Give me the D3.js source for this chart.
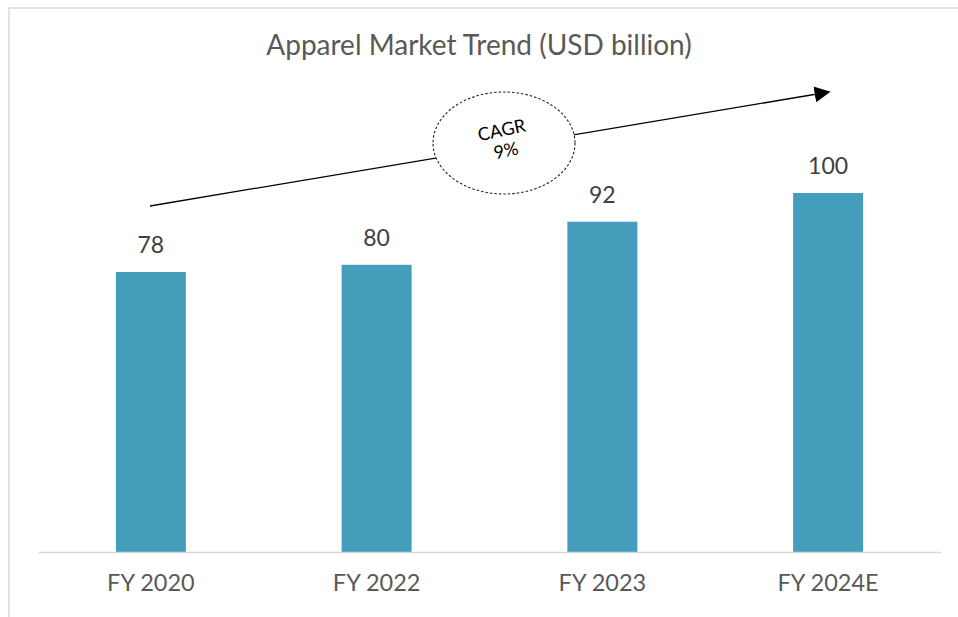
<!DOCTYPE html>
<html><head><meta charset="utf-8">
<script src="https://cdn.jsdelivr.net/npm/d3@7"></script>
<style>body{margin:0;background:#fff}svg{display:block}</style>
</head><body>
<svg id="c" width="958" height="617"></svg>
<script>
const categories = ["FY 2020", "FY 2022", "FY 2023", "FY 2024E"];
const values = [78, 80, 92, 100];
const title = "Apparel Market Trend (USD billion)";
const cagrLabel = ["CAGR", "9%"];

const svg = d3.select("#c");
const W = 958, H = 617;
const fontFam = "Lato, 'Open Sans', sans-serif";

// frame
svg.append("path").attr("d", `M9,${H} L9,8 L${W},8`)
  .attr("fill", "none").attr("stroke", "#d9d9d9").attr("stroke-width", 1.5);

const x = d3.scaleBand().domain(categories).range([38, 941]).paddingInner(0.69).paddingOuter(0.345);
const y = d3.scaleLinear().domain([0, 100]).range([552, 193]);

svg.append("text").attr("x", 479).attr("y", 55).attr("text-anchor", "middle")
  .attr("font-family", fontFam).attr("font-size", 28).attr("fill", "#595959").text(title);

svg.selectAll("rect.bar").data(values).join("rect").attr("class", "bar")
  .attr("x", (d, i) => x(categories[i])).attr("width", x.bandwidth())
  .attr("y", d => y(d)).attr("height", d => y(0) - y(d))
  .attr("fill", "#439dbb");

svg.selectAll("text.val").data(values).join("text").attr("class", "val")
  .attr("x", (d, i) => x(categories[i]) + x.bandwidth() / 2)
  .attr("y", d => y(d) - 19).attr("text-anchor", "middle")
  .attr("font-family", fontFam).attr("font-size", 23).attr("fill", "#404040").text(d => d);

// baseline axis
const axis = d3.axisBottom(x).tickSize(0).tickPadding(22);
const ag = svg.append("g").attr("transform", `translate(0,${y(0)})`).call(axis);
ag.select(".domain").attr("stroke", "#d9d9d9").attr("stroke-width", 1.5);
ag.selectAll("text").attr("font-family", fontFam).attr("font-size", 23.5).attr("fill", "#595959");

// arrow
const defs = svg.append("defs");
defs.append("marker").attr("id", "arr").attr("viewBox", "0 0 10 10").attr("refX", 9).attr("refY", 5)
  .attr("markerWidth", 16).attr("markerHeight", 16).attr("markerUnits", "userSpaceOnUse").attr("orient", "auto")
  .append("path").attr("d", "M0,0 L10,5 L0,10 Z").attr("fill", "#000");
svg.append("line").attr("x1", 150).attr("y1", 206).attr("x2", 829).attr("y2", 92)
  .attr("stroke", "#000").attr("stroke-width", 1.3).attr("marker-end", "url(#arr)");

// ellipse
svg.append("ellipse").attr("cx", 504).attr("cy", 143).attr("rx", 71).attr("ry", 51)
  .attr("fill", "#fff").attr("stroke", "#222").attr("stroke-width", 1.1).attr("stroke-dasharray", "2.5,2");
const tg = svg.append("g").attr("transform", "translate(504,141) rotate(-12)");
tg.append("text").attr("x", 0).attr("y", -5).attr("text-anchor", "middle")
  .attr("font-family", fontFam).attr("font-size", 18).attr("fill", "#000").text(cagrLabel[0]);
tg.append("text").attr("x", 0).attr("y", 16).attr("text-anchor", "middle")
  .attr("font-family", fontFam).attr("font-size", 18).attr("fill", "#000").text(cagrLabel[1]);
</script>
</body></html>
